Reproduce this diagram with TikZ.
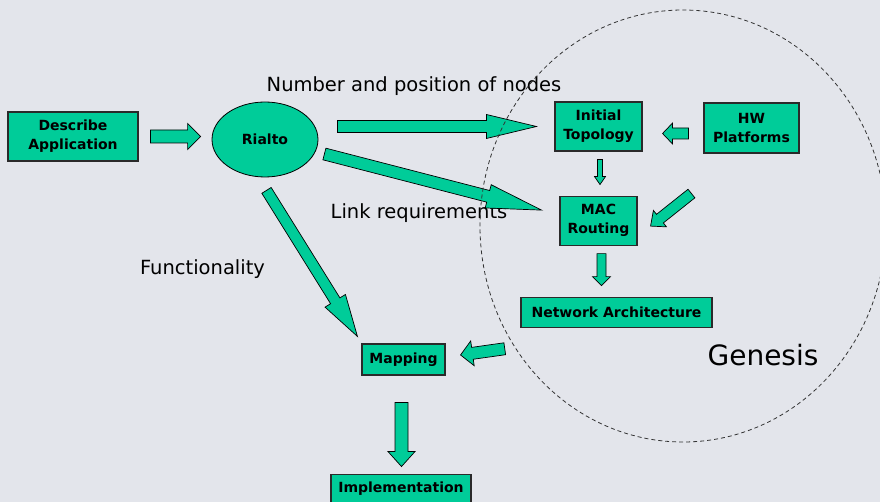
\documentclass[tikz,border=0pt]{standalone}
\usepackage{fontspec}
\setmainfont{DejaVu Sans}
\usetikzlibrary{calc, positioning, shapes.geometric}
\definecolor{sea}{HTML}{00CC99}
\definecolor{slide}{HTML}{E3E5EB}
\definecolor{edge}{HTML}{2A2A2A}

\newcommand{\blk}[5]{%
  \coordinate (blkA) at #1;
  \coordinate (blkB) at #2;
  \coordinate (blkH) at ($(blkB)!#5pt!(blkA)$);
  \filldraw[blk] ($(blkA)!#3pt!90:(blkB)$) -- ($(blkH)!#3pt!-90:(blkA)$)
    -- ($(blkH)!#4pt!-90:(blkA)$) -- (blkB) -- ($(blkH)!#4pt!90:(blkA)$)
    -- ($(blkH)!#3pt!90:(blkA)$) -- ($(blkA)!#3pt!-90:(blkB)$) -- cycle;
}

\begin{document}
\begin{tikzpicture}[x=1pt, y=-1pt,
      box/.style={draw=edge, line width=1.1pt, fill=sea, inner sep=0pt, align=center, font=\fontsize{14}{19}\selectfont\bfseries},
      blk/.style={fill=sea, draw=black, line width=0.7pt, line join=miter},
      lbl/.style={anchor=base, font=\fontsize{19.5}{23}\selectfont}]
    \fill[slide] (0,0) rectangle (880,502);
    \useasboundingbox (0,0) rectangle (880,502);
    \node[box, minimum width=130pt, minimum height=49pt] (desc) at (73,136.5) {Describe\\Application};
    \node[box, ellipse, draw=black, line width=0.8pt, minimum width=106pt, minimum height=75pt] (rialto) at (265,139.5) {Rialto};
    \node[box, minimum width=87pt, minimum height=49pt] (topo) at (598.5,126.5) {Initial\\Topology};
    \node[box, minimum width=95pt, minimum height=50pt] (hw) at (751.5,128) {HW\\Platforms};
    \node[box, minimum width=77pt, minimum height=49pt, below=44pt of topo] (mac) {MAC\\Routing};
    \node[box, minimum width=191pt, minimum height=30pt, below=51pt of mac, xshift=18pt] (net) {Network Architecture};
    \node[box, minimum width=83pt, minimum height=31pt] (map) at (403.5,359.5) {Mapping};
    \node[box, minimum width=140pt, minimum height=30pt, below=98pt of map, xshift=-2.5pt] (impl) {Implementation};
    \node[lbl] (npos) at (414,92) {Number and position of nodes};
    \node[lbl] (lreq) at (419,219) {Link requirements};
    \node[lbl] (func) at (202.5,275) {Functionality};
    \node[anchor=base, font=\fontsize{28}{32}\selectfont] (gen) at (763,365) {Genesis};
    \blk{($(desc.east)+(12,0)$)}{($(desc.east -| rialto.west)+(-11,0)$)}{6.5}{13}{13}
    \blk{($(rialto.east |- topo.west)+(19,0)$)}{($(topo.west)+(-18,0)$)}{6}{12}{50}
    \blk{($(rialto.east)+(6,14.5)$)}{($(mac.west)+(-18,-10.5)$)}{6}{12}{55}
    \blk{($(rialto.south)+(1.5,13)$)}{($(map.north west)+(-4,-7)$)}{5.5}{12}{42}
    \blk{($(hw.west)+(-15,5.5)$)}{($(topo.east)+(20,7)$)}{5.5}{10.5}{10}
    \blk{($(topo.south)+(1.5,8)$)}{($(mac.north)+(1.5,-11)$)}{2.5}{5.5}{8}
    \blk{($(hw.south west)+(-12,40)$)}{($(mac.east)+(13,5.5)$)}{5.5}{10.5}{12}
    \blk{($(mac.south)+(3,8)$)}{($(net.north)+(-15,-11)$)}{4.5}{9}{9}
    \blk{($(net.south west)+(-15.7,21)$)}{($(map.east)+(15,-4.5)$)}{6}{12.5}{12}
    \blk{($(map.south)+(-2,27)$)}{($(impl.north)+(0.5,-7)$)}{6.5}{13.5}{15}
    \draw[dash pattern=on 4pt off 3pt, line width=0.8pt, black!80] (683,226) ellipse [x radius=203, y radius=216];
\end{tikzpicture}
\end{document}
